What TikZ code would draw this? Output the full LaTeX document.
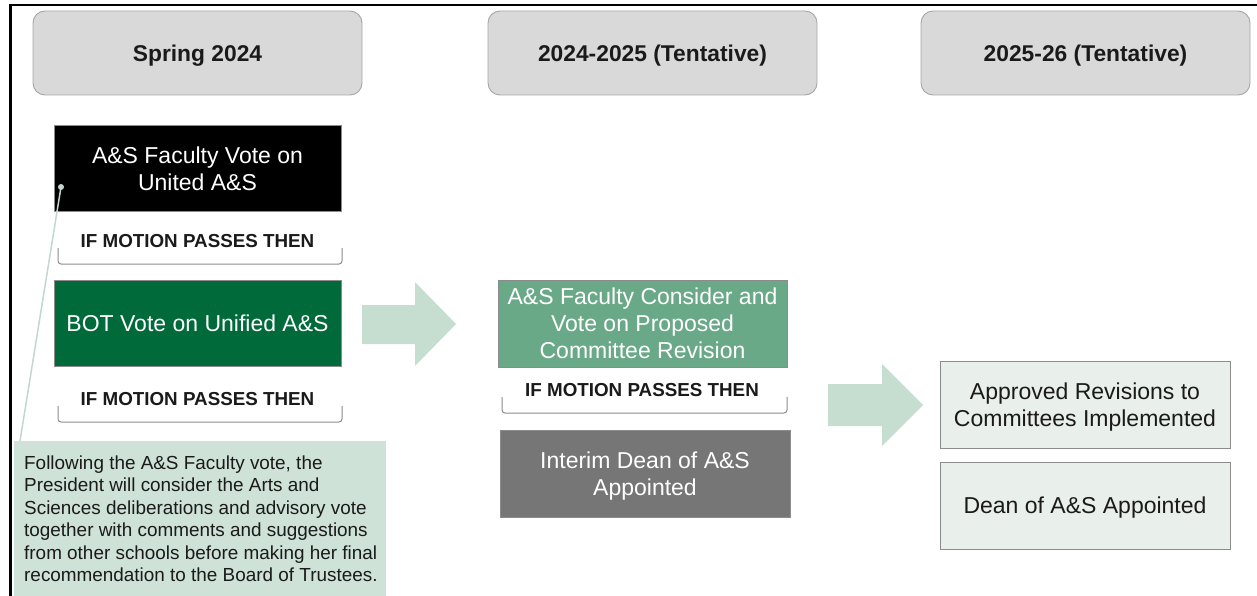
\documentclass[tikz,border=0pt]{standalone}
\usepackage{fontspec}
\setmainfont{Liberation Sans}
\definecolor{hdrfill}{HTML}{D9D9D9}
\definecolor{hdrline}{HTML}{A6A6A6}
\definecolor{boxline}{HTML}{8C8C8C}
\definecolor{darkgreen}{HTML}{006A3B}
\definecolor{midgreen}{HTML}{6AA988}
\definecolor{midgray}{HTML}{767676}
\definecolor{lightbox}{HTML}{E9EFEA}
\definecolor{notefill}{HTML}{CFE2D8}
\definecolor{arrowfill}{HTML}{C6DED0}
\definecolor{callline}{HTML}{C3D8CD}
\definecolor{brkline}{HTML}{8C8C8C}
\definecolor{textdark}{HTML}{1A1A1A}
\newcommand{\nodesc}[1]{\raisebox{0pt}[\height][0pt]{#1}}
\begin{document}
\begin{tikzpicture}[x=1pt,y=-1pt,
  hdr/.style={draw=hdrline, fill=hdrfill, rounded corners=12pt, minimum width=329pt, minimum height=84pt,
    font=\fontsize{22.8}{27}\selectfont\bfseries, text=textdark, line width=0.9pt, inner sep=0pt,
    text height=16.3pt, text depth=0pt},
  stepbox/.style={draw=boxline, line width=0.8pt, minimum width=289pt, minimum height=87pt, align=center,
    font=\fontsize{23}{27}\selectfont, inner sep=0pt},
  cond/.style={font=\fontsize{18.8}{22}\selectfont\bfseries, text=textdark, inner sep=0pt},
  brk/.style={draw=brkline, line width=1pt, rounded corners=3pt},
  bigarrow/.style={fill=arrowfill, draw=none},
]
\useasboundingbox (0,0) rectangle (1257,596);
% frame
\draw[line width=2.5pt, black] (10.5,596) -- (10.5,5) -- (1257,5);

% headers
\node[hdr] (h1) at (197.5,53) {Spring 2024};
\node[hdr] (h2) at (652.5,53) {2024-2025 (Tentative)};
\node[hdr] (h3) at (1085.5,53) {2025-26 (Tentative)};

% column 1
\node[stepbox, fill=black, text=white, minimum width=287pt, minimum height=86pt] (b1) at (197.5,168.5)
  {A\&S Faculty Vote on\\United A\&S};
\node[cond] (t1) at (197.5,241) {IF MOTION PASSES THEN};
\draw[brk] (58,248) -- (58,264) -- (342,264) -- (342,248);
\node[stepbox, fill=darkgreen, text=white, minimum width=287pt, minimum height=86pt] (b2) at (197.5,323)
  {BOT Vote on Unified A\&S};
\node[cond] (t2) at (197.5,399) {IF MOTION PASSES THEN};
\draw[brk] (58,406) -- (58,422) -- (342,422) -- (342,406);

% note
\node[fill=notefill, draw=none, anchor=north west, minimum width=372pt, minimum height=155pt, inner sep=0pt] (note) at (14,441) {};
\node[anchor=north west, align=left, inner sep=0pt, text=textdark,
  font=\fontsize{18.9}{22.4}\selectfont] (notetext) at (24,455.5)
  {Following the A\&S Faculty vote, the\\
   President will consider the Arts and\\
   Sciences deliberations and advisory vote\\
   together with comments and suggestions\\
   from other schools before making her final\\
   recommendation to the Board of Trustees.};
\coordinate (dot) at (61,187);
\coordinate (callend) at (20,441);
\draw[callline, line width=1.5pt] (dot) -- (callend);
\fill[callline] (dot) circle (3pt);

% arrow 1
\fill[bigarrow] (362,305) -- (415,305) -- (415,282) -- (456,324) -- (415,366) -- (415,344) -- (362,344) -- cycle;

% column 2
\node[stepbox, fill=midgreen, text=white] (c1) at (642.5,323.5)
  {A\&S Faculty Consider and\\Vote on Proposed\\Committee Revision};
\node[cond] (t3) at (642,390) {IF MOTION PASSES THEN};
\draw[brk] (502,397) -- (502,413) -- (787,413) -- (787,397);
\node[stepbox, fill=midgray, text=white, minimum width=290pt] (c2) at (645,473.5)
  {Interim Dean of A\&S\\\nodesc{Appointed}};

% arrow 2
\fill[bigarrow] (828,384) -- (882,384) -- (882,364) -- (923,405) -- (882,446) -- (882,426) -- (828,426) -- cycle;

% column 3
\node[stepbox, fill=lightbox, text=textdark, minimum width=290pt] (d1) at (1085,404.5)
  {Approved Revisions to\\\nodesc{Committees Implemented}};
\node[stepbox, fill=lightbox, text=textdark, minimum width=290pt] (d2) at (1085,505.5)
  {\nodesc{Dean of A\&S Appointed}};
\end{tikzpicture}
\end{document}
